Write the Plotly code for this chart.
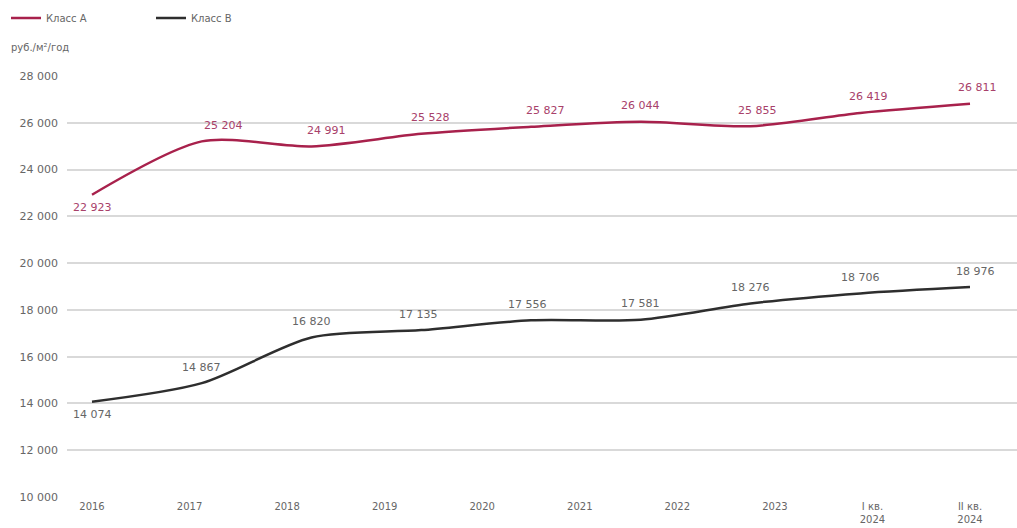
import plotly.graph_objects as go

# Category labels along the bottom axis
periods = ["2016", "2017", "2018", "2019", "2020", "2021", "2022", "2023",
           "I кв.<br>2024", "II кв.<br>2024"]

# Average asking rents, руб./м²/год
class_a = [22923, 25204, 24991, 25528, 25827, 26044, 25855, 26419, 26811]
class_b = [14074, 14867, 16820, 17135, 17556, 17581, 18276, 18706, 18976]

# Tick labels on the y axis
y_ticks = [10000, 12000, 14000, 16000, 18000, 20000, 22000, 24000, 26000, 28000]

# Horizontal nudges (px) for the value labels
a_label_dx = [0, 22, 15, 9, 14, 0, 7, 8, 7]
b_label_dx = [0, 0, 0, -3, -4, 0, 0, 0, 5]

RED = "#a8214c"
RED_TEXT = "#a8416a"
DARK = "#2e2e2e"
GREY_TEXT = "#666666"
FONT = "DejaVu Sans"

n_pts = len(class_a)
xs = list(range(n_pts))
# the period labels are spread evenly over the same span as the data points
tick_pos = [i * (n_pts - 1) / (len(periods) - 1) for i in range(len(periods))]


def fmt(v):
    return f"{v:,}".replace(",", " ")


fig = go.Figure()
fig.add_trace(go.Scatter(
    x=xs, y=class_a, name="Класс А", mode="lines",
    line=dict(color=RED, width=2.5, shape="spline", smoothing=0.8),
))
fig.add_trace(go.Scatter(
    x=xs, y=class_b, name="Класс В", mode="lines",
    line=dict(color=DARK, width=2.5, shape="spline", smoothing=0.8),
))

annotations = []
for values, shifts, color in ((class_a, a_label_dx, RED_TEXT),
                              (class_b, b_label_dx, GREY_TEXT)):
    for i, v in enumerate(values):
        annotations.append(dict(
            x=xs[i], y=v, xref="x", yref="y", text=fmt(v),
            showarrow=False, xanchor="center", yanchor="middle",
            xshift=shifts[i], yshift=-13 if i == 0 else 16,
            font=dict(size=11, color=color, family=FONT),
        ))

plot_w = 1017 - 67
plot_h = 497 - 76

annotations.append(dict(
    text="руб./м²/год", xref="paper", yref="paper",
    x=-58 / plot_w, y=(497 - 47) / plot_h,
    xanchor="left", yanchor="middle", showarrow=False,
    font=dict(size=10, color=GREY_TEXT, family=FONT),
))

fig.update_layout(
    width=1017, height=528,
    margin=dict(l=67, r=0, t=76, b=31, autoexpand=False),
    paper_bgcolor="white", plot_bgcolor="white",
    font=dict(family=FONT, size=10, color=GREY_TEXT),
    showlegend=True,
    legend=dict(
        orientation="h", x=-61 / plot_w, xanchor="left",
        y=(497 - 18) / plot_h, yanchor="middle",
        font=dict(size=10, color=GREY_TEXT, family=FONT),
        entrywidth=100, entrywidthmode="pixels", tracegroupgap=0,
    ),
    xaxis=dict(
        range=[-25 / 109.75, (n_pts - 1) + 47 / 109.75],
        tickmode="array", tickvals=tick_pos, ticktext=periods,
        showgrid=False, zeroline=False, showline=False,
        tickfont=dict(size=10, color=GREY_TEXT, family=FONT),
        ticklabelstandoff=2, automargin=False,
        fixedrange=True,
    ),
    yaxis=dict(
        range=[10000, 28000],
        tickmode="array", tickvals=y_ticks,
        ticktext=[fmt(v) for v in y_ticks],
        showgrid=True, gridcolor="#d9d9d9", gridwidth=1.5,
        zeroline=False, showline=False,
        tickfont=dict(size=11, color=GREY_TEXT, family=FONT),
        ticklabelstandoff=8, automargin=False,
        fixedrange=True,
    ),
    annotations=annotations,
)

fig.write_html("out.html")
